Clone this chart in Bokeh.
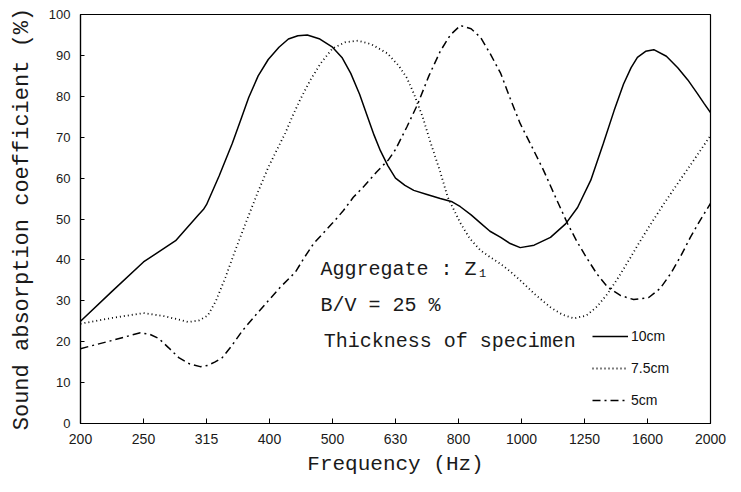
from bokeh.plotting import figure
from bokeh.models import Range1d, FixedTicker, Label, Legend, LegendItem
from bokeh.embed import file_html
from bokeh.resources import INLINE

# 1/3-octave band centre frequencies (Hz), evenly spaced on the chart
freq_labels = ["200", "250", "315", "400", "500", "630", "800", "1000", "1250", "1600", "2000"]
y_ticks = list(range(0, 101, 10))

# band position (0 = 200 Hz ... 10 = 2000 Hz) and absorption coefficient (%)
pos_10cm = [0.0, 0.5, 1.0, 1.51, 1.87, 1.95, 2.0, 2.2, 2.41, 2.55, 2.67, 2.82, 2.98, 3.15, 3.30,
            3.45, 3.60, 3.8, 4.0, 4.15, 4.29, 4.43, 4.56, 4.66, 4.76, 4.88, 5.0, 5.15, 5.29, 5.5,
            5.71, 5.9, 6.03, 6.2, 6.35, 6.5, 6.67, 6.82, 6.98, 7.2, 7.46, 7.7, 7.89, 8.1, 8.3,
            8.47, 8.62, 8.74, 8.84, 8.97, 9.10, 9.3, 9.48, 9.64, 9.79, 9.9, 10.0]
abs_10cm = [25, 32.3, 39.5, 44.7, 51, 52.3, 53.5, 60.5, 68.5, 74.5, 79.7, 85, 89, 92, 94,
            94.8, 95, 94, 92, 89.5, 85.6, 80.5, 74.8, 70.5, 66.7, 63, 60, 58.2, 57, 56,
            55, 54.2, 53, 51, 49, 47, 45.5, 44, 43, 43.6, 45.5, 48.8, 52.8, 59.5, 68.5,
            76.5, 83, 87, 89.5, 91, 91.4, 89.8, 87, 84, 80.7, 78.2, 76]

pos_7_5cm = [0.0, 0.5, 1.0, 1.35, 1.71, 1.88, 2.02, 2.15, 2.30, 2.46, 2.62, 2.8, 2.98, 3.12,
             3.25, 3.37, 3.49, 3.65, 3.81, 4.0, 4.2, 4.4, 4.62, 4.87, 5.05, 5.18, 5.29, 5.43,
             5.56, 5.7, 5.83, 6.03, 6.18, 6.35, 6.5, 6.67, 6.82, 6.98, 7.22, 7.46, 7.65, 7.83,
             8.03, 8.2, 8.37, 8.55, 8.73, 8.88, 9.02, 9.25, 9.48, 9.74, 10.0]
abs_7_5cm = [24.4, 25.8, 27, 26.2, 24.8, 25.2, 26.4, 30, 35.7, 42.5, 48.9, 56, 62.6, 67,
             71, 75.3, 79.3, 84, 88, 91.7, 93.2, 93.6, 92.7, 90.5, 87.5, 84.5, 80.7, 75,
             68.5, 62, 55.3, 49, 45.2, 42.3, 40.7, 39, 37.2, 35, 31.5, 28.4, 26.6, 25.7,
             26.4, 28.6, 31.8, 36, 40.6, 44.5, 48, 53.5, 58.7, 64.5, 70.4]

pos_5cm = [0.0, 0.5, 0.95, 1.1, 1.24, 1.4, 1.56, 1.73, 1.90, 2.02, 2.13, 2.25, 2.4, 2.57,
           2.78, 2.98, 3.17, 3.41, 3.55, 3.70, 3.85, 4.0, 4.17, 4.33, 4.5, 4.7, 4.89, 5.0,
           5.18, 5.35, 5.53, 5.71, 5.87, 6.03, 6.2, 6.35, 6.5, 6.67, 6.82, 6.98, 7.17, 7.35,
           7.55, 7.73, 7.88, 8.03, 8.2, 8.37, 8.57, 8.78, 9.02, 9.2, 9.37, 9.53, 9.68, 9.84,
           10.0]
abs_5cm = [18.3, 20.3, 22.2, 21.8, 20.8, 18.5, 16.1, 14.6, 13.9, 14.2, 15, 16.1, 19, 22.7,
           26.5, 30, 33.3, 37, 40.5, 44, 46.5, 49, 52, 55.3, 58, 61.5, 64.5, 67,
           72.5, 78, 85, 91, 95, 97.3, 96.5, 94.4, 90.5, 85.6, 79.5, 73.3, 67.5, 61.9,
           55, 48.9, 44.5, 40.6, 36.5, 33.3, 31.3, 30.3, 30.8, 33, 36.7, 41, 45.5, 49.8,
           53.8]

p = figure(width=733, height=484, output_backend="svg", toolbar_location=None,
           x_range=Range1d(0, 10), y_range=Range1d(0, 100),
           min_border_left=80, min_border_right=23, min_border_top=14, min_border_bottom=61)
p.background_fill_color = "white"
p.border_fill_color = "white"
p.grid.visible = False
p.outline_line_color = "black"
p.outline_line_width = 1.2

p.xaxis.ticker = FixedTicker(ticks=list(range(len(freq_labels))))
p.xaxis.major_label_overrides = {i: lab for i, lab in enumerate(freq_labels)}
p.yaxis.ticker = FixedTicker(ticks=y_ticks)

for ax in (p.xaxis[0], p.yaxis[0]):
    ax.axis_line_color = "black"
    ax.axis_line_width = 1.2
    ax.major_tick_line_color = "black"
    ax.major_tick_out = 0
    ax.minor_tick_line_color = None
    ax.major_label_text_font = "Liberation Sans"
    ax.major_label_text_color = "#1a1a1a"
    ax.axis_label_text_font = "Liberation Mono"
    ax.axis_label_text_font_style = "normal"
    ax.axis_label_text_color = "#1a1a1a"

p.xaxis.axis_label_text_font_size = "21px"
p.yaxis.axis_label_text_font_size = "22px"
p.xaxis.major_label_text_font_size = "14px"
p.yaxis.major_label_text_font_size = "13px"
p.xaxis.major_tick_in = 5
p.yaxis.major_tick_in = 4
p.xaxis.major_label_standoff = 10
p.yaxis.major_label_standoff = 10
p.xaxis.axis_label = "Frequency (Hz)"
p.yaxis.axis_label = "Sound absorption coefficient (%)"
p.xaxis.axis_label_standoff = 6
p.yaxis.axis_label_standoff = 11

r1 = p.line(pos_10cm, abs_10cm, line_color="black", line_width=1.5)
r2 = p.line(pos_7_5cm, abs_7_5cm, line_color="black", line_width=1.8, line_dash="1 3")
r3 = p.line(pos_5cm, abs_5cm, line_color="black", line_width=1.5, line_dash="8 4 2 4")

legend = Legend(items=[LegendItem(label="10cm", renderers=[r1]),
                       LegendItem(label="7.5cm", renderers=[r2]),
                       LegendItem(label="5cm", renderers=[r3])],
                location=(512, 13), glyph_width=36, glyph_height=20, label_standoff=3,
                spacing=12, padding=0, margin=0, border_line_alpha=0, background_fill_alpha=0,
                label_text_font="Liberation Sans", label_text_font_size="14px",
                label_text_color="#111111")
p.add_layout(legend)

for txt, lx, ly in [("Aggregate : Z\u2081", 3.81, 37.7),
                    ("B/V = 25 %", 3.81, 28.9),
                    ("Thickness of specimen", 3.86, 20.0)]:
    p.add_layout(Label(x=lx, y=ly, text=txt, text_font="Liberation Mono",
                       text_font_size="20px", text_baseline="middle", text_color="#1a1a1a"))

open("out.html", "w").write(file_html(p, INLINE))
